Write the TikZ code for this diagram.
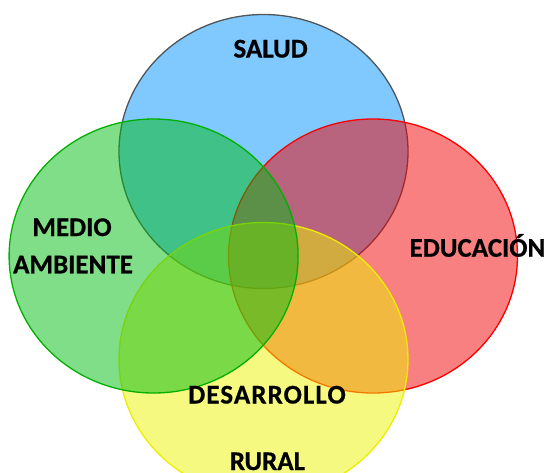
\documentclass[tikz,border=0pt]{standalone}
\usepackage{fontspec}
\setmainfont{Carlito}[BoldFeatures={FakeBold=0.6}]
\usetikzlibrary{shapes.geometric}
\definecolor{cblue}{RGB}{1,147,255}
\definecolor{cgreen}{RGB}{1,187,17}
\definecolor{cred}{RGB}{243,1,1}
\definecolor{cyellow}{RGB}{235,243,1}
\definecolor{sblue}{RGB}{80,85,90}
\definecolor{sgreen}{RGB}{0,176,0}
\definecolor{sred}{RGB}{250,0,0}
\definecolor{syellow}{RGB}{238,238,0}
\tikzset{
  venn/.style={ellipse, minimum width=289pt, minimum height=274pt, inner sep=0pt, line width=1.3pt, fill opacity=0.5},
  lbl/.style={anchor=base, font=\fontsize{27}{30}\selectfont\bfseries, text=black, inner sep=0pt, align=center}
}
\begin{document}
\begin{tikzpicture}[x=1pt,y=-1pt]
\useasboundingbox (0,0) rectangle (545,472);
\clip (0,0) rectangle (545,472);
\node[venn, draw=sblue, fill=cblue] (salud) at (263.5,151.5) {};
\node[venn, draw=sred, fill=cred] (educ) at (373,256) {};
\node[venn, draw=syellow, fill=cyellow] (rural) at (263.5,359.5) {};
\node[venn, draw=sgreen, fill=cgreen] (medio) at (153.6,256) {};
\node[lbl] (t1) at (270.6,57.5) {SALUD};
\node[lbl] (t2) at (72,236) {MEDIO};
\node[lbl] (t3) at (73,273.3) {AMBIENTE};
\node[lbl] (t4) at (477.5,256.7) {EDUCACIÓN};
\node[lbl] (t5) at (267,403.5) {\addfontfeatures{LetterSpace=4}DESARROLLO};
\node[lbl] (t6) at (267.5,470) {RURAL};
\end{tikzpicture}
\end{document}
